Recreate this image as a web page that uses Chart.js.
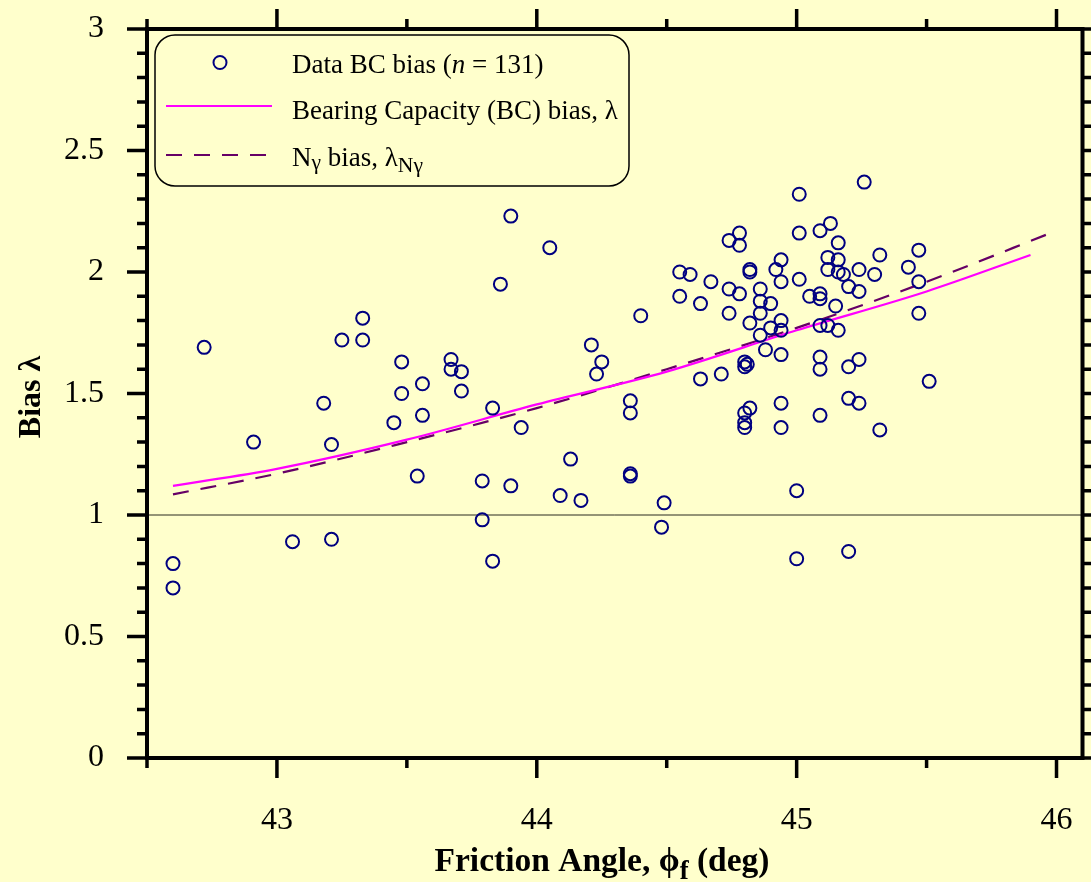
<!DOCTYPE html>
<html>
<head>
<meta charset="utf-8">
<script src="https://cdn.jsdelivr.net/npm/chart.js@4.4.0/dist/chart.umd.min.js"></script>
<style>
  html, body { margin: 0; padding: 0; background: #FFFFCC; }
  #wrap { width: 1091px; height: 882px; position: relative; }
</style>
</head>
<body>
<div id="wrap"><canvas id="biasChart"></canvas></div>
<script>
var phiData = [
  42.60, 42.60, 42.72, 42.91, 43.06, 43.18, 43.21, 43.21, 43.25, 43.33,
  43.33, 43.45, 43.48, 43.48, 43.56, 43.56, 43.54, 43.67, 43.67, 43.71,
  43.71, 43.83, 43.79, 43.79, 43.90, 43.94, 43.83, 43.86, 43.90, 44.05,
  44.13, 44.09, 44.17, 44.21, 44.25, 44.23, 44.36, 44.36, 44.36, 44.36,
  44.49, 44.48, 44.40,
  45.26, 45.01, 44.78, 44.74, 44.78, 45.01, 45.09, 45.13, 45.16, 45.47,
  45.32, 45.43, 45.47, 45.30, 45.24, 45.12, 45.16, 45.12, 45.16, 45.18,
  45.20, 45.24, 45.01, 44.94, 44.92, 44.94, 44.82, 44.82, 44.55, 44.59,
  44.67, 44.55, 44.74, 44.78, 44.86, 44.63, 44.86, 44.90, 44.74, 44.86,
  44.82, 44.94, 44.94, 44.90, 44.86, 45.05, 45.09, 45.09, 45.15, 45.09,
  45.12, 45.16, 44.88, 44.94, 44.80, 44.81, 44.80, 44.71, 44.63, 45.09,
  45.09, 45.24, 45.20, 45.51, 45.47, 44.82, 44.80, 44.80, 44.80, 44.94,
  44.94, 45.09, 45.20, 45.24, 45.32, 45.00, 45.00, 45.20
];
var biasData = [
  0.80, 0.70, 1.69, 1.30, 0.89, 1.46, 1.29, 0.90, 1.72, 1.81,
  1.72, 1.38, 1.63, 1.50, 1.54, 1.41, 1.16, 1.64, 1.60, 1.59,
  1.51, 1.44, 1.14, 0.98, 1.12, 1.36, 0.81, 1.95, 2.23, 2.10,
  1.23, 1.08, 1.06, 1.70, 1.63, 1.58, 1.47, 1.42, 1.17, 1.16,
  1.05, 0.95, 1.82,
  2.37, 2.32, 2.16, 2.13, 2.11, 2.16, 2.17, 2.20, 2.12, 2.09,
  2.07, 2.02, 1.96, 1.99, 2.01, 2.06, 2.05, 2.01, 2.00, 1.99,
  1.94, 1.92, 1.97, 2.05, 2.01, 1.96, 2.01, 2.00, 2.00, 1.99,
  1.96, 1.90, 1.93, 1.91, 1.93, 1.87, 1.88, 1.87, 1.83, 1.83,
  1.79, 1.80, 1.76, 1.77, 1.74, 1.90, 1.91, 1.89, 1.86, 1.78,
  1.78, 1.76, 1.68, 1.66, 1.63, 1.62, 1.61, 1.58, 1.56, 1.65,
  1.60, 1.64, 1.61, 1.55, 1.83, 1.44, 1.42, 1.38, 1.36, 1.46,
  1.36, 1.41, 1.48, 1.46, 1.35, 1.10, 0.82, 0.85
];

// bias curves
var bcPhi = [42.6, 43.0, 43.5, 44.0, 44.5, 45.0, 45.5, 45.9];
var bcBias = [1.12, 1.19, 1.31, 1.455, 1.59, 1.76, 1.92, 2.07];
var ngPhi = [42.6, 43.0, 43.5, 44.0, 44.5, 45.0, 45.5, 46.0];
var ngBias = [1.085, 1.17, 1.30, 1.44, 1.60, 1.77, 1.96, 2.17];

var refBias = 1;
var xTicks = [43, 44, 45, 46];
var yTicks = [0, 0.5, 1, 1.5, 2, 2.5, 3];

var serif = "'Liberation Serif', 'Times New Roman', serif";
var bgColor = '#FFFFCC';

function toXY(xs, ys) {
  return xs.map(function (x, i) { return { x: x, y: ys[i] }; });
}

// text with sub/italic parts (canvas has no rich text)
function richText(ctx, parts, x, y, size, bold, measureOnly) {
  parts.forEach(function (p) {
    var s = p.sub ? size * 0.8 : size;
    ctx.font = (p.italic ? 'italic ' : '') + (bold ? 'bold ' : '') + s + 'px ' + serif;
    if (!measureOnly) ctx.fillText(p.t, x, y + (p.sub ? size * p.sub : 0));
    x += ctx.measureText(p.t).width;
  });
  return x;
}

var legendRows = [
  [{ t: 'Data BC bias (' }, { t: 'n', italic: true }, { t: ' = 131)' }],
  [{ t: 'Bearing Capacity (BC) bias, λ' }],
  [{ t: 'N' }, { t: 'γ', sub: 0.1 }, { t: ' bias, λ' }, { t: 'Nγ', sub: 0.22 }]
];
var xTitle = [{ t: 'Friction Angle, ' }, { t: 'ϕ' }, { t: 'f', sub: 0.25 }, { t: ' (deg)' }];

var framePlugin = {
  id: 'frame',
  beforeDraw: function (chart) {
    var ctx = chart.ctx;
    ctx.save();
    ctx.fillStyle = bgColor;
    ctx.fillRect(0, 0, chart.width, chart.height);
    ctx.restore();
  },
  beforeDatasetsDraw: function (chart) {
    var ctx = chart.ctx, a = chart.chartArea;
    var py = chart.scales.y.getPixelForValue(refBias);
    ctx.save();
    ctx.strokeStyle = '#2a2a20';
    ctx.lineWidth = 1;
    ctx.beginPath();
    ctx.moveTo(a.left, py);
    ctx.lineTo(a.right, py);
    ctx.stroke();
    ctx.restore();
  },
  afterDraw: function (chart) {
    var ctx = chart.ctx, a = chart.chartArea;
    var xs = chart.scales.x, ys = chart.scales.y;
    ctx.save();
    ctx.strokeStyle = '#000';
    ctx.lineWidth = 3.5;
    ctx.beginPath();
    var v, p, len;
    for (v = xs.min; v <= xTicks[xTicks.length - 1] + 1e-6; v += 0.5) {
      p = xs.getPixelForValue(v);
      len = Math.abs(v - Math.round(v)) < 1e-6 ? 20 : 10;
      ctx.moveTo(p, a.bottom); ctx.lineTo(p, a.bottom + len);
      ctx.moveTo(p, a.top); ctx.lineTo(p, a.top - len);
    }
    for (var k = 0; k <= 30; k++) {
      v = ys.min + k * 0.1;
      p = ys.getPixelForValue(v);
      len = k % 5 === 0 ? 20 : 10;
      ctx.moveTo(a.left, p); ctx.lineTo(a.left - len, p);
      ctx.moveTo(a.right, p); ctx.lineTo(a.right + len, p);
    }
    ctx.stroke();
    ctx.lineWidth = 4;
    ctx.strokeRect(a.left, a.top, a.right - a.left, a.bottom - a.top);

    // axis titles
    ctx.fillStyle = '#000';
    ctx.textBaseline = 'alphabetic';
    ctx.textAlign = 'left';
    var w = richText(ctx, xTitle, 0, 0, 33.5, true, true);
    richText(ctx, xTitle, 602 - w / 2, 871, 33.5, true);
    ctx.save();
    ctx.translate(40, 397);
    ctx.rotate(-Math.PI / 2);
    ctx.textAlign = 'center';
    ctx.font = 'bold 32px ' + serif;
    ctx.fillText('Bias λ', 0, 0);
    ctx.restore();

    // legend box
    var lx = 155, ly = 35, lw = 474, lh = 151;
    ctx.beginPath();
    ctx.roundRect(lx, ly, lw, lh, 20);
    ctx.fillStyle = bgColor;
    ctx.fill();
    ctx.lineWidth = 1.5;
    ctx.strokeStyle = '#000';
    ctx.stroke();

    var ds = chart.data.datasets;
    var rowY = [62.5, 106, 155];
    var baseY = [73, 118.5, 166];
    // sample marks use the dataset styles
    ctx.beginPath();
    ctx.arc(220, rowY[0], ds[0].pointRadius, 0, Math.PI * 2);
    ctx.lineWidth = ds[0].borderWidth;
    ctx.strokeStyle = ds[0].borderColor;
    ctx.stroke();
    [1, 2].forEach(function (i) {
      ctx.beginPath();
      ctx.setLineDash(ds[i].borderDash || []);
      ctx.lineWidth = ds[i].borderWidth;
      ctx.strokeStyle = ds[i].borderColor;
      ctx.moveTo(166, rowY[i]);
      ctx.lineTo(272, rowY[i]);
      ctx.stroke();
    });
    ctx.setLineDash([]);
    ctx.fillStyle = '#000';
    legendRows.forEach(function (row, i) {
      richText(ctx, row, 292, baseY[i], 27, false);
    });
    ctx.restore();
  }
};

var ctx = document.getElementById('biasChart');
var myChart = new Chart(ctx, {
  type: 'scatter',
  data: {
    datasets: [
      {
        label: 'Data BC bias (n = 131)',
        data: toXY(phiData, biasData),
        pointStyle: 'circle',
        pointRadius: 6.5,
        pointHoverRadius: 6.5,
        borderWidth: 2,
        borderColor: '#000080',
        backgroundColor: 'rgba(0,0,0,0)',
        showLine: false
      },
      {
        type: 'line',
        label: 'Bearing Capacity (BC) bias, λ',
        data: toXY(bcPhi, bcBias),
        borderColor: '#FF00FF',
        borderWidth: 2.2,
        pointRadius: 0,
        fill: false,
        cubicInterpolationMode: 'monotone'
      },
      {
        type: 'line',
        label: 'Nγ bias, λNγ',
        data: toXY(ngPhi, ngBias),
        borderColor: '#660066',
        borderWidth: 2.2,
        borderDash: [16, 12],
        pointRadius: 0,
        fill: false,
        cubicInterpolationMode: 'monotone'
      }
    ]
  },
  options: {
    responsive: true,
    maintainAspectRatio: false,
    animation: false,
    devicePixelRatio: 1,
    events: [],
    layout: { padding: { top: 29, right: 8, left: 0, bottom: 0 } },
    plugins: { legend: { display: false }, tooltip: { enabled: false } },
    scales: {
      x: {
        type: 'linear',
        position: 'bottom',
        min: 42.5,
        max: 46.1,
        afterBuildTicks: function (s) { s.ticks = xTicks.map(function (v) { return { value: v }; }); },
        afterFit: function (s) {
          s.height = 124;
          s.paddingLeft = 0; s.paddingRight = 0;
        },
        grid: { display: false, drawTicks: false },
        border: { display: false },
        ticks: {
          color: '#000',
          font: { family: serif, size: 32 },
          padding: 43,
          maxRotation: 0,
          autoSkip: false,
          callback: function (v) { return String(v); }
        }
      },
      y: {
        type: 'linear',
        position: 'left',
        min: 0,
        max: 3,
        afterBuildTicks: function (s) { s.ticks = yTicks.map(function (v) { return { value: v }; }); },
        afterFit: function (s) {
          s.width = 147;
          s.paddingTop = 0; s.paddingBottom = 0;
        },
        grid: { display: false, drawTicks: false },
        border: { display: false },
        ticks: {
          color: '#000',
          font: { family: serif, size: 32 },
          padding: 43,
          autoSkip: false,
          callback: function (v) { return String(v); }
        }
      }
    }
  },
  plugins: [framePlugin]
});
</script>
</body>
</html>
